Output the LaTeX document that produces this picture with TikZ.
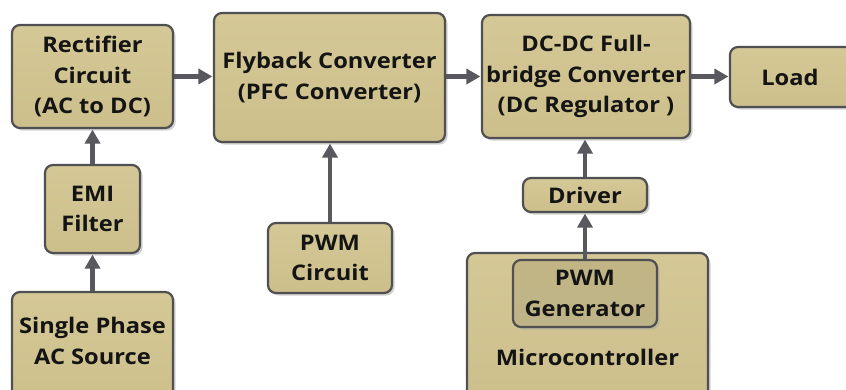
\documentclass[tikz,border=0pt]{standalone}
\usepackage{fontspec}
\setmainfont{Open Sans}[FakeStretch=1.1]
\usetikzlibrary{arrows.meta,shadows}
\definecolor{boxtop}{RGB}{212,200,150}
\definecolor{boxbot}{RGB}{204,191,140}
\definecolor{boxline}{RGB}{80,80,82}
\definecolor{arrowc}{RGB}{88,88,94}
\definecolor{txt}{RGB}{20,20,20}
\tikzset{
  blk/.style={draw=boxline, line width=2.2pt, rounded corners=8pt,
    top color=boxtop, bottom color=boxbot, align=center, inner sep=0pt,
    font=\fontsize{21.5}{30.5}\selectfont\bfseries, text=txt,
    drop shadow={shadow xshift=2.5pt, shadow yshift=-2.5pt, fill=black!35, opacity=0.5}},
  inblk/.style={blk, top color=boxbot!95!black, bottom color=boxtop!90!black},
  lbl/.style={align=center, inner sep=0pt, font=\fontsize{21.5}{30.5}\selectfont\bfseries, text=txt},
  conn/.style={draw=arrowc, line width=4.5pt, -{Triangle[length=14pt,width=15pt]}, shorten >=0.5pt}
}
\begin{document}
\begin{tikzpicture}[x=1pt,y=-1pt]
\useasboundingbox (0,0) rectangle (846,389);
\clip (0,0) rectangle (846,389);
\fill[white] (0,0) rectangle (846,389);
% boxes
\node[blk, minimum width=161pt, minimum height=103pt] (rect) at (92.5,76.5) {Rectifier\\Circuit\\(AC to DC)};
\node[blk, minimum width=231pt, minimum height=129pt] (fly) at (329.5,77.5) {Flyback Converter\\(PFC Converter)};
\node[blk, minimum width=208pt, minimum height=123pt] (dcdc) at (586,76.5) {DC-DC Full-\\bridge Converter\\(DC Regulator )};
\node[blk, minimum width=130pt, minimum height=60pt] (load) at (795,77) {};
\node[lbl] (loadtxt) at (790,77) {Load};
\node[blk, minimum width=95pt, minimum height=88pt] (emi) at (92.5,209) {EMI\\Filter};
\node[blk, minimum width=161pt, minimum height=120pt] (single) at (92.5,352) {};
\node[lbl] (singletxt) at (92.5,341) {Single Phase\\AC Source};
\node[blk, minimum width=124pt, minimum height=70pt] (pwmc) at (330,258) {PWM\\Circuit};
\node[blk, minimum width=124pt, minimum height=34pt] (driver) at (585,195) {Driver};
\node[blk, minimum width=241pt, minimum height=150pt] (micro) at (587.5,328) {};
\node[lbl] (microtxt) at (587.5,357) {Microcontroller};
\node[inblk, minimum width=144pt, minimum height=67pt] (pwmg) at (585,293.5) {PWM\\Generator};
% connectors
\draw[conn] (rect.east) -- (rect.east -| fly.west);
\draw[conn] (fly.east |- dcdc.west) -- (dcdc.west);
\draw[conn] (dcdc.east) -- (dcdc.east -| load.west);
\draw[conn] (emi.north) -- (emi.north |- rect.south);
\draw[conn] (single.north) -- (single.north |- emi.south);
\draw[conn] (pwmc.north) -- (pwmc.north |- fly.south);
\draw[conn] (driver.north) -- (driver.north |- dcdc.south);
\draw[conn] (pwmg.north) -- (driver.south);
\end{tikzpicture}
\end{document}
